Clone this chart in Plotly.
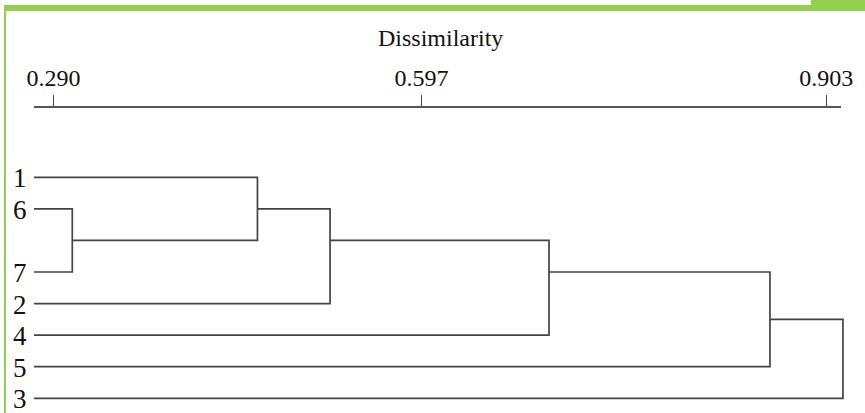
import plotly.graph_objects as go

# ---- data ----
leaf_labels = ["1", "6", "7", "2", "4", "5", "3"]
leaf_slots = [0, 1, 3, 4, 5, 6, 7]

merge_a = ["6", "1", "m1", "m2", "m3", "m4"]
merge_b = ["7", "m0", "2", "4", "5", "3"]
merge_height = [0.3049, 0.4518, 0.5094, 0.6831, 0.8584, 0.9163]
merge_attach = [0.5, 0.5, 1 / 3, 1 / 3, 0.5, 0.5]

tick_vals = [0.290, 0.582, 0.903]
tick_text = ["0.290", "0.597", "0.903"]

axis_title = "Dissimilarity"

# ---- geometry ----
W, H = 865, 413
x_full = [0.24756, 0.93379]          # full-width data axis
x_show = [0.27453, 0.91475]          # displayed axis span
y_range = [7.466, -5.616]
leaf_level = x_show[0]

node_h = {lab: leaf_level for lab in leaf_labels}
node_y = {lab: s for lab, s in zip(leaf_labels, leaf_slots)}

xs, ys = [], []
for i, (a, b, h, w) in enumerate(zip(merge_a, merge_b, merge_height, merge_attach)):
    ya, yb = node_y[a], node_y[b]
    xs += [node_h[a], h, h, node_h[b], None]
    ys += [ya, ya, yb, yb, None]
    node_h["m%d" % i] = h
    node_y["m%d" % i] = ya + (yb - ya) * w

fig = go.Figure()
fig.add_trace(go.Scatter(x=xs, y=ys, mode="lines",
                         line=dict(color="#444444", width=1.7),
                         hoverinfo="skip", showlegend=False))
fig.add_trace(go.Scatter(x=[None], y=[None], xaxis="x2", yaxis="y",
                         mode="lines", showlegend=False, hoverinfo="skip"))

for lab, s in zip(leaf_labels, leaf_slots):
    fig.add_annotation(x=leaf_level, y=s, text=lab, showarrow=False,
                       xanchor="right", yanchor="middle", xshift=-5, yshift=-1,
                       font=dict(family="Liberation Serif", size=27, color="#111"))

fig.add_annotation(x=440 / W, y=1 - 38 / H, xref="paper", yref="paper",
                   text=axis_title, showarrow=False,
                   xanchor="center", yanchor="middle",
                   font=dict(family="Liberation Serif", size=24, color="#111"))

green = "#92D050"
fig.add_shape(type="rect", xref="paper", yref="paper",
              x0=4 / W, x1=1, y0=1 - 11 / H, y1=1 - 5 / H,
              fillcolor=green, line=dict(width=0), layer="above")
fig.add_shape(type="rect", xref="paper", yref="paper",
              x0=811 / W, x1=1, y0=1 - 11 / H, y1=1,
              fillcolor=green, line=dict(width=0), layer="above")
fig.add_shape(type="rect", xref="paper", yref="paper",
              x0=4 / W, x1=6 / W, y0=0, y1=1 - 5 / H,
              fillcolor=green, line=dict(width=0), layer="above")

fig.update_layout(
    width=W, height=H, autosize=False,
    margin=dict(l=0, r=0, t=0, b=0, pad=0, autoexpand=False),
    paper_bgcolor="white", plot_bgcolor="rgba(0,0,0,0)",
    xaxis=dict(range=x_full, domain=[0, 1], visible=False, fixedrange=True),
    xaxis2=dict(range=x_show, domain=[34 / W, 841 / W],
                anchor="free", position=1 - 107 / H, side="top",
                showline=True, linecolor="#555", linewidth=1.5,
                ticks="outside", ticklen=11, tickwidth=1.3, tickcolor="#444",
                tickvals=tick_vals, ticktext=tick_text,
                tickfont=dict(family="Liberation Serif", size=24, color="#111"),
                showgrid=False, zeroline=False, fixedrange=True, automargin=False),
    yaxis=dict(range=y_range, domain=[0, 1], visible=False, fixedrange=True),
)

fig.write_html("out.html",
               config={"displayModeBar": False, "responsive": False},
               post_script="document.body.style.margin='0';document.body.style.overflow='hidden';")
